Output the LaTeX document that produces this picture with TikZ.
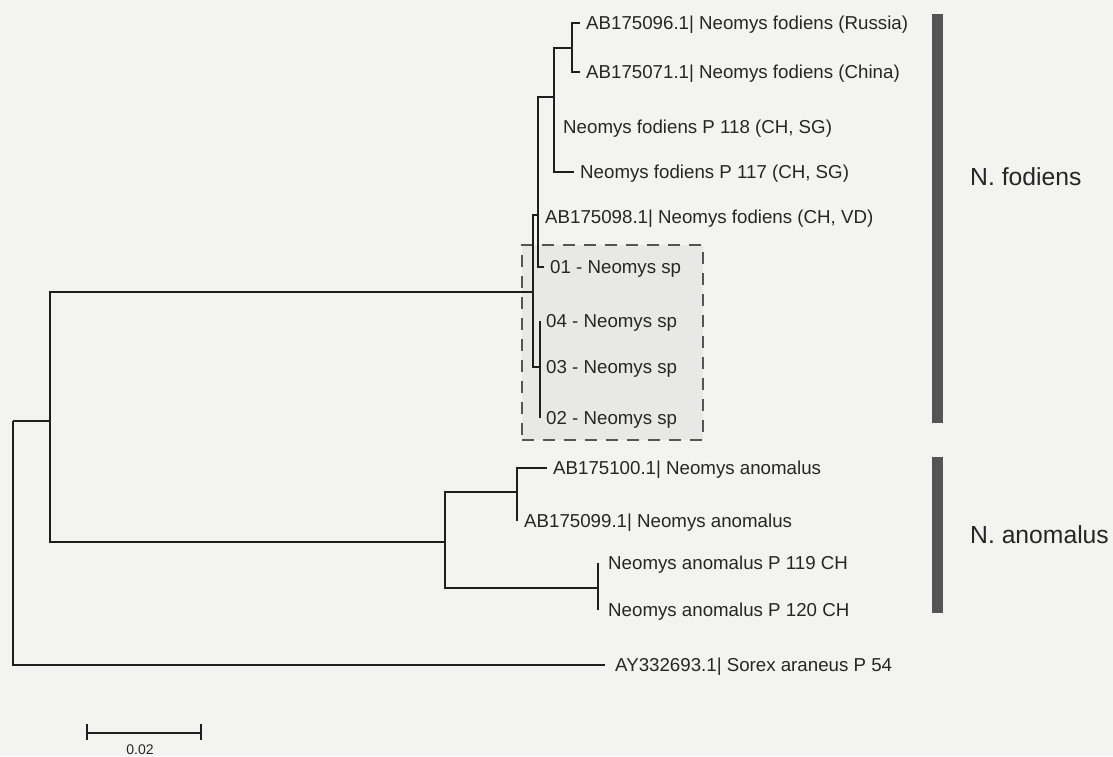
\documentclass[tikz,border=0pt]{standalone}
\usepackage{fontspec}
\setmainfont{Liberation Sans}
\definecolor{bgcol}{HTML}{F3F3F1}
\definecolor{treecol}{HTML}{1E1E1E}
\definecolor{txtcol}{HTML}{262626}
\definecolor{boxfill}{HTML}{E8E8E6}
\definecolor{dashcol}{HTML}{555555}
\definecolor{barcol}{HTML}{555555}
\begin{document}
\begin{tikzpicture}[x=1pt,y=-1pt,
  tree/.style={line width=2.8pt, draw=treecol},
  leaf/.style={anchor=west, inner xsep=6pt, inner ysep=0pt, text=txtcol,
    font=\fontsize{18.7}{22}\selectfont, text height=13.4pt, text depth=0pt},
  grp/.style={anchor=west, inner sep=0pt, text=txtcol,
    font=\fontsize{24.7}{28}\selectfont, text height=17.7pt, text depth=0pt},
  cladebar/.style={fill=barcol, draw=none, inner sep=0pt, minimum width=11pt}]
\useasboundingbox (0,0) rectangle (1113,756);
\fill[bgcol] (0,0) rectangle (1113,756);
% highlighted box of the new sequences
\node[draw=dashcol, fill=boxfill, line width=1.8pt, dash pattern=on 12pt off 9pt,
  minimum width=181pt, minimum height=195pt, inner sep=0pt] (spbox) at (612.5,342.5) {};
% internal nodes
\coordinate (root) at (13,421);
\coordinate (nN) at (50,421);
\coordinate (nF) at (533,292);
\coordinate (nF1) at (538,215);
\coordinate (nF2) at (554,97);
\coordinate (nRC) at (572,48);
\coordinate (nS) at (540,367);
\coordinate (nA) at (445,542);
\coordinate (nA1) at (517,492);
\coordinate (nA2) at (598,588);
% leaves
\node[leaf] (russia) at (580,23) {AB175096.1| Neomys fodiens (Russia)};
\node[leaf] (china) at (580,72) {AB175071.1| Neomys fodiens (China)};
\node[leaf, inner xsep=9pt] (p118) at (554,127) {Neomys fodiens P 118 (CH, SG)};
\node[leaf] (p117) at (574,172) {Neomys fodiens P 117 (CH, SG)};
\node[leaf, inner xsep=7pt] (ab98) at (538,217) {AB175098.1| Neomys fodiens (CH, VD)};
\node[leaf] (s01) at (544,267) {01 - Neomys sp};
\node[leaf] (s04) at (540,321) {04 - Neomys sp};
\node[leaf] (s03) at (540,367) {03 - Neomys sp};
\node[leaf] (s02) at (540,418) {02 - Neomys sp};
\node[leaf] (ab100) at (547,468) {AB175100.1| Neomys anomalus};
\node[leaf, inner xsep=7pt] (ab99) at (517,521) {AB175099.1| Neomys anomalus};
\node[leaf, inner xsep=10pt] (p119) at (598,563) {Neomys anomalus P 119 CH};
\node[leaf, inner xsep=10pt] (p120) at (598,610) {Neomys anomalus P 120 CH};
\node[leaf, inner xsep=10pt] (sorex) at (605,665) {AY332693.1| Sorex araneus P 54};
% branches
\draw[tree] (root) -- (nN);
\draw[tree] (root) |- (sorex.west);
\draw[tree] (nN) |- (nF);
\draw[tree] (nN) |- (nA);
\draw[tree] (nF) |- (nF1);
\draw[tree] (nF) |- (nS);
\draw[tree] (nF1) |- (nF2);
\draw[tree] (nF1) |- (ab98.west);
\draw[tree] (nF1) |- (s01.west);
\draw[tree] (nF2) |- (nRC);
\draw[tree] (nF2) |- (p118.west);
\draw[tree] (nF2) |- (p117.west);
\draw[tree] (nRC) |- (russia.west);
\draw[tree] (nRC) |- (china.west);
\draw[tree] (nS) |- (s04.west);
\draw[tree] (nS) |- (s03.west);
\draw[tree] (nS) |- (s02.west);
\draw[tree] (nA) |- (nA1);
\draw[tree] (nA) |- (nA2);
\draw[tree] (nA1) |- (ab100.west);
\draw[tree] (nA1) |- (ab99.west);
\draw[tree] (nA2) |- (p119.west);
\draw[tree] (nA2) |- (p120.west);
% clade bars and names
\node[cladebar, minimum height=409pt] (fodbar) at (937.5,218.5) {};
\node[cladebar, minimum height=156pt] (anombar) at (937,535) {};
\node[grp] (fodlab) at (970,177) {N. fodiens};
\node[grp] (anomlab) at (970,535) {N. anomalus};
% scale bar
\coordinate (sbL) at (87,733);
\coordinate (sbR) at (201,733);
\draw[tree] (sbL) -- (sbR);
\draw[tree] ([yshift=-7pt]sbL) -- ([yshift=9pt]sbL);
\draw[tree] ([yshift=-7pt]sbR) -- ([yshift=9pt]sbR);
\node[anchor=base, inner sep=0pt, text=txtcol, font=\fontsize{14}{16}\selectfont] (sblab) at (140,754) {0.02};
\end{tikzpicture}
\end{document}
